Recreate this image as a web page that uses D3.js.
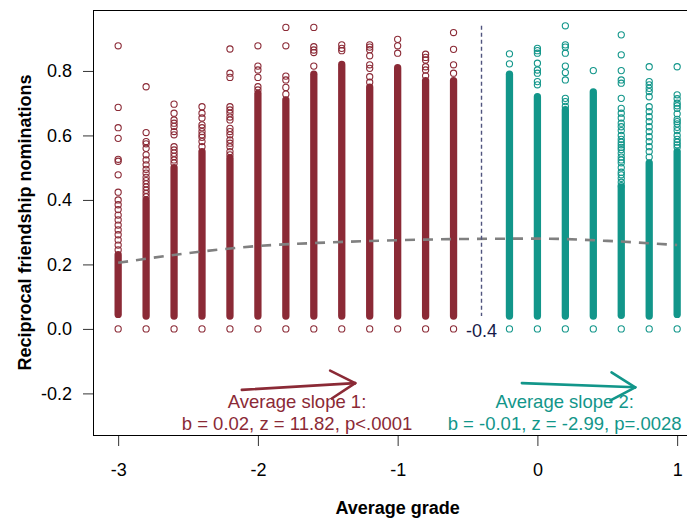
<!DOCTYPE html>
<html>
<head>
<meta charset="utf-8">
<script src="https://cdn.jsdelivr.net/npm/d3@7"></script>
<style>
  body { margin: 0; background: #fff; }
  svg { display: block; font-family: "Liberation Sans", Arial, sans-serif; }
</style>
</head>
<body>
<svg id="chart" width="687" height="520"></svg>
<script>
// values
const redGrades = [-3, -2.8, -2.6, -2.4, -2.2, -2, -1.8, -1.6, -1.4, -1.2, -1, -0.8, -0.6];
const redBandLo = [0.045, 0.04, 0.04, 0.04, 0.04, 0.04, 0.04, 0.04, 0.04, 0.04, 0.04, 0.04, 0.04];
const redBandHi = [0.23, 0.40, 0.50, 0.55, 0.53, 0.73, 0.71, 0.79, 0.82, 0.75, 0.81, 0.77, 0.77];
const redSparse = [
  [0, 0.878, 0.687, 0.624, 0.591, 0.526, 0.52, 0.478, 0.424, 0.40, 0.385, 0.37, 0.353, 0.338, 0.322, 0.307, 0.292, 0.276, 0.26, 0.245],
  [0, 0.751, 0.609, 0.581, 0.574, 0.56, 0.54, 0.524, 0.509, 0.495, 0.483, 0.47, 0.46, 0.45, 0.44, 0.43, 0.42, 0.41],
  [0, 0.697, 0.669, 0.648, 0.638, 0.628, 0.612, 0.602, 0.565, 0.555, 0.545, 0.535, 0.524, 0.514],
  [0, 0.689, 0.669, 0.654, 0.633, 0.624, 0.612, 0.602, 0.594, 0.581, 0.565],
  [0, 0.868, 0.793, 0.78, 0.689, 0.679, 0.669, 0.657, 0.648, 0.622, 0.612, 0.602, 0.586, 0.576, 0.565, 0.55, 0.54],
  [0, 0.878, 0.815, 0.803, 0.78, 0.751, 0.741],
  [0, 0.935, 0.878, 0.784, 0.772, 0.749, 0.728],
  [0, 0.935, 0.875, 0.865, 0.857, 0.815],
  [0, 0.881, 0.87, 0.863],
  [0, 0.881, 0.874, 0.866, 0.847, 0.819, 0.808, 0.782, 0.765],
  [0, 0.898, 0.878, 0.855],
  [0, 0.852, 0.842, 0.834, 0.813, 0.803, 0.785],
  [0, 0.919, 0.867, 0.819, 0.793]
];

const tealGrades = [-0.2, 0, 0.2, 0.4, 0.6, 0.8, 1];
const tealBandLo = [0.04, 0.04, 0.04, 0.04, 0.042, 0.04, 0.045];
const tealBandHi = [0.79, 0.72, 0.68, 0.735, 0.44, 0.515, 0.55];
const tealSparse = [
  [0, 0.853, 0.822],
  [0, 0.87, 0.863, 0.855, 0.824, 0.803, 0.793, 0.767, 0.757],
  [0, 0.94, 0.881, 0.874, 0.855, 0.815, 0.795, 0.772, 0.715, 0.705, 0.69],
  [0, 0.801],
  [0, 0.912, 0.85, 0.801, 0.772, 0.762, 0.715, 0.684, 0.669, 0.654, 0.638, 0.627, 0.615, 0.60, 0.588,
   0.579, 0.571, 0.563, 0.556, 0.545, 0.533, 0.524, 0.515, 0.50, 0.486, 0.478, 0.467, 0.455, 0.444],
  [0, 0.813, 0.767, 0.757, 0.746, 0.736, 0.72, 0.689, 0.674, 0.658, 0.643, 0.627, 0.612, 0.596, 0.581, 0.565, 0.55, 0.533],
  [0, 0.813, 0.726, 0.714, 0.70, 0.692, 0.684, 0.667, 0.65, 0.643, 0.636, 0.625, 0.615, 0.60, 0.588, 0.579,
   0.571, 0.563]
];

// fitted curve (gray dashed)
const curveX = [-3, -2.5, -2, -1.5, -1, -0.5, 0, 0.5, 1];
const curveY = [0.205, 0.235, 0.257, 0.268, 0.275, 0.279, 0.28, 0.273, 0.26];

const xTicks = [-3, -2, -1, 0, 1];
const yTicks = [-0.2, 0, 0.2, 0.4, 0.6, 0.8];
const cutoff = -0.4;

const slope1 = { x0: -2.115, y0: -0.189, x1: -1.304, y1: -0.168, tx: -1.72,
  lines: ["Average slope 1:", "b = 0.02, z = 11.82, p<.0001"] };
const slope2 = { x0: -0.111, y0: -0.168, x1: 0.70, y1: -0.181, tx: 0.195,
  lines: ["Average slope 2:", "b = -0.01, z = -2.99, p=.0028"] };

const red = "#8b2a36";
const teal = "#12968a";

const margin = { top: 10, left: 93, bottom: 85 };
const svg = d3.select("#chart");
const H = 520;

const x = d3.scaleLinear().domain([-3.18, 1.18]).range([margin.left, margin.left + 4.36 * 139.75]);
const y = d3.scaleLinear().domain([-0.329, 0.989]).range([H - margin.bottom, margin.top]);

const r = 3.1;

const drawGroup = (grades, lo, hi, sparse, color) => {
  const g = svg.append("g");
  grades.forEach((gr, i) => {
    if (lo[i] != null) {
      g.append("line")
        .attr("x1", x(gr)).attr("x2", x(gr))
        .attr("y1", y(lo[i])).attr("y2", y(hi[i]))
        .attr("stroke", color)
        .attr("stroke-width", 2 * r + 1.1)
        .attr("stroke-linecap", "round");
    }
    g.selectAll(null)
      .data(sparse[i])
      .enter().append("circle")
      .attr("cx", x(gr))
      .attr("cy", d => y(d))
      .attr("r", r)
      .attr("fill", "none")
      .attr("stroke", color)
      .attr("stroke-width", 1.1);
  });
};

drawGroup(redGrades, redBandLo, redBandHi, redSparse, red);
drawGroup(tealGrades, tealBandLo, tealBandHi, tealSparse, teal);

// gray dashed fitted curve
const line = d3.line()
  .x(d => x(d[0]))
  .y(d => y(d[1]))
  .curve(d3.curveMonotoneX);

svg.append("path")
  .datum(d3.zip(curveX, curveY))
  .attr("d", line)
  .attr("fill", "none")
  .attr("stroke", "#808080")
  .attr("stroke-width", 2.6)
  .attr("stroke-dasharray", "10,8");

// cutoff line
svg.append("line")
  .attr("x1", x(cutoff)).attr("x2", x(cutoff))
  .attr("y1", y(0.94)).attr("y2", y(0.04))
  .attr("stroke", "#50547e")
  .attr("stroke-width", 1.4)
  .attr("stroke-dasharray", "4,3");

svg.append("text")
  .attr("x", x(cutoff))
  .attr("y", y(0) + 8)
  .attr("text-anchor", "middle")
  .attr("font-size", 18)
  .attr("fill", "#161a48")
  .text("-0.4");

// slope arrows + labels
const drawSlope = (s, color) => {
  const ax = x(s.x0), ay = y(s.y0), bx = x(s.x1), by = y(s.y1);
  const ang = Math.atan2(by - ay, bx - ax);
  const len = 28, spread = Math.PI / 6;
  const g = svg.append("g")
    .attr("stroke", color)
    .attr("stroke-width", 2.6)
    .attr("stroke-linecap", "round");
  g.append("line").attr("x1", ax).attr("y1", ay).attr("x2", bx).attr("y2", by);
  [-spread, spread].forEach(a => {
    g.append("line")
      .attr("x1", bx).attr("y1", by)
      .attr("x2", bx - len * Math.cos(ang + a))
      .attr("y2", by - len * Math.sin(ang + a));
  });
  const t = svg.append("text")
    .attr("text-anchor", "middle")
    .attr("font-size", 18.5)
    .attr("fill", color);
  t.append("tspan").attr("x", x(s.tx)).attr("y", 408).text(s.lines[0]);
  t.append("tspan").attr("x", x(s.tx)).attr("y", 430).text(s.lines[1]);
};

drawSlope(slope1, red);
drawSlope(slope2, teal);

// axes
const axisY = d3.axisLeft(y)
  .tickValues(yTicks)
  .tickSize(10)
  .tickPadding(11)
  .tickFormat(d => d.toFixed(1));

svg.append("g")
  .attr("transform", "translate(" + margin.left + ",0)")
  .call(axisY)
  .call(g => g.select(".domain").remove());

const axisX = d3.axisBottom(x)
  .tickValues(xTicks)
  .tickSize(11)
  .tickPadding(17)
  .tickFormat(d => String(d));

svg.append("g")
  .attr("transform", "translate(0," + (H - margin.bottom) + ")")
  .call(axisX)
  .call(g => g.select(".domain").remove());

svg.selectAll(".tick text")
  .attr("font-size", 18)
  .attr("font-family", "Liberation Sans, Arial, sans-serif")
  .attr("fill", "#000");
svg.selectAll(".tick line").attr("stroke", "#333");

// plot box (right side runs off the page)
svg.append("rect")
  .attr("x", margin.left + 0.5)
  .attr("y", margin.top + 0.5)
  .attr("width", x.range()[1] - margin.left)
  .attr("height", y.range()[0] - margin.top)
  .attr("fill", "none")
  .attr("stroke", "#000")
  .attr("stroke-width", 1);

// titles, centred on the plot region
const midY = (y.range()[0] + y.range()[1]) / 2;
const midX = (x.range()[0] + x.range()[1]) / 2;

svg.append("text")
  .attr("transform", "translate(31," + midY + ") rotate(-90)")
  .attr("text-anchor", "middle")
  .attr("font-size", 18)
  .attr("font-weight", "bold")
  .text("Reciprocal friendship nominations");

svg.append("text")
  .attr("x", midX)
  .attr("y", 514)
  .attr("text-anchor", "middle")
  .attr("font-size", 18)
  .attr("font-weight", "bold")
  .text("Average grade");
</script>
</body>
</html>
